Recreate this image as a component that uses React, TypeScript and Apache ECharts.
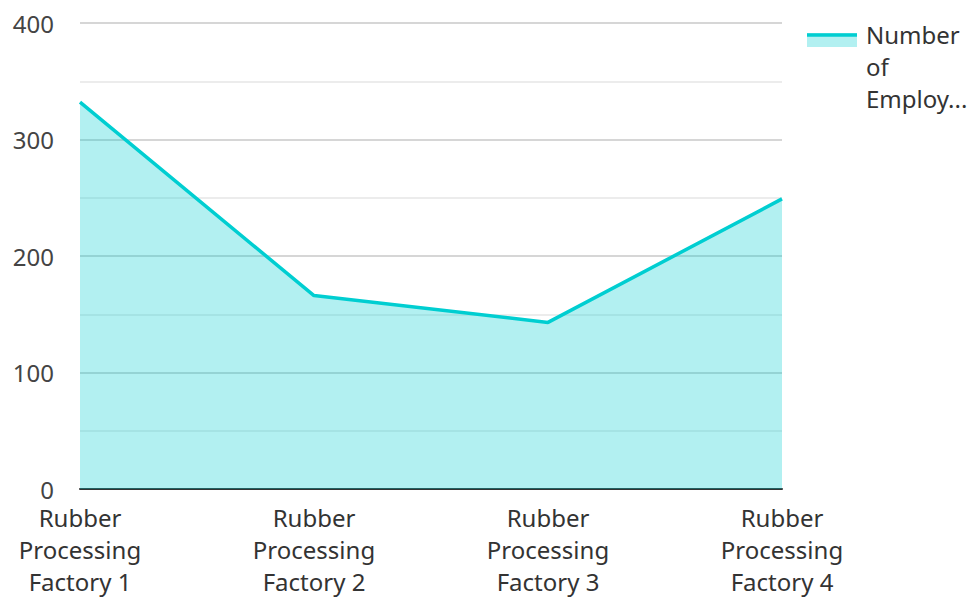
import React, { useEffect, useRef } from "react";
import * as echarts from "echarts";

const categories = [
  "Rubber\nProcessing\nFactory 1",
  "Rubber\nProcessing\nFactory 2",
  "Rubber\nProcessing\nFactory 3",
  "Rubber\nProcessing\nFactory 4",
];
const employees = [332, 166, 143, 249];
const seriesName = "Number of Employees";
const legendLabel = "Number\nof\nEmploy...";

export default function App() {
  const ref = useRef<HTMLDivElement>(null);
  useEffect(() => {
    if (!ref.current) return;
    document.body.style.margin = "0";
    const chart = echarts.init(ref.current, undefined, { renderer: "svg" });
    const font = "'Noto Sans', 'Open Sans', sans-serif";
    chart.setOption({
      animation: false,
      textStyle: { fontFamily: font },
      grid: { left: 80, right: 190, top: 23, bottom: 107, containLabel: false },
      legend: { show: false, data: [seriesName] },
      graphic: [
        {
          type: "rect",
          shape: { x: 807, y: 33, width: 50, height: 14 },
          style: { fill: "#b2f0f1" },
          z: 100,
        },
        {
          type: "line",
          shape: { x1: 807, y1: 35, x2: 857, y2: 35 },
          style: { stroke: "#00ced1", lineWidth: 3.5 },
          z: 101,
        },
        {
          type: "text",
          x: 866,
          y: 18,
          style: {
            text: legendLabel,
            fontFamily: font,
            fontSize: 24,
            lineHeight: 32,
            fill: "#333",
            verticalAlign: "top",
            align: "left",
          },
          z: 101,
        },
      ],
      xAxis: {
        type: "category",
        data: categories,
        boundaryGap: false,
        axisLine: { show: true, lineStyle: { color: "#333", width: 2 } },
        axisTick: { show: false },
        axisLabel: {
          fontFamily: font,
          fontSize: 24,
          lineHeight: 32,
          color: "#333",
          margin: 12,
          interval: 0,
        },
        splitLine: { show: false },
      },
      yAxis: {
        type: "value",
        min: 0,
        max: 400,
        interval: 100,
        axisLine: { show: false },
        axisTick: { show: false },
        axisLabel: {
          fontFamily: font,
          fontSize: 24,
          color: "#444",
          margin: 26,
        },
        splitLine: { show: true, lineStyle: { color: "#c8c8c8", width: 1.5 } },
        minorTick: { show: false, splitNumber: 2 },
        minorSplitLine: { show: true, lineStyle: { color: "#e6e6e6", width: 1.5 } },
      },
      series: [
        {
          name: seriesName,
          type: "line",
          data: employees,
          showSymbol: false,
          symbol: "none",
          lineStyle: { color: "#00ced1", width: 3.5 },
          itemStyle: { color: "#00ced1" },
          areaStyle: { color: "#00ced1", opacity: 0.3 },
        },
      ],
    });
    return () => chart.dispose();
  }, []);
  return <div ref={ref} style={{ width: 972, height: 597 }} />;
}
